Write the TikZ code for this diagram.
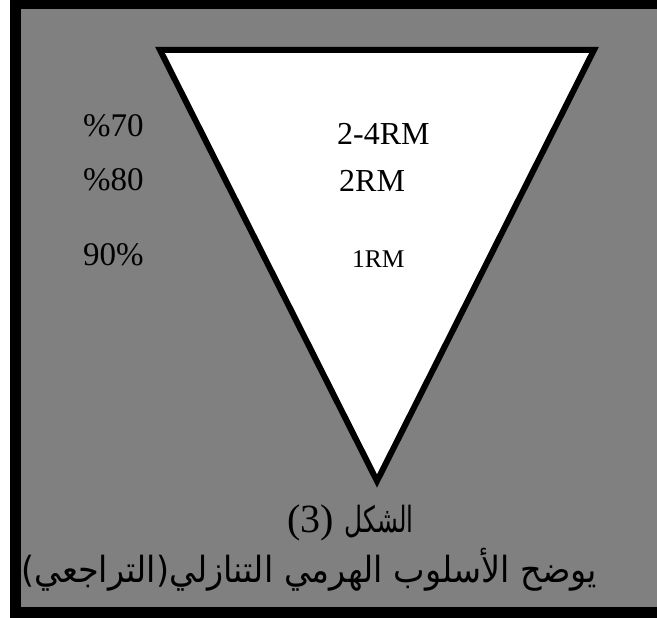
\documentclass[tikz,border=0pt]{standalone}
\usepackage{fontspec}
\usepackage{graphicx}
\setmainfont{Liberation Serif}
\newfontfamily\arabicfont[Script=Arabic]{DejaVu Sans}
\TeXXeTstate=1
\definecolor{bggray}{RGB}{128,128,128}
\begin{document}
\begin{tikzpicture}[x=1pt,y=-1pt,
  lbl/.style={inner sep=0pt,anchor=base west,font=\fontsize{33}{38}\selectfont},
  rm/.style={inner sep=0pt,anchor=base west,font=\fontsize{32}{38}\selectfont},
  captxt/.style={inner sep=0pt,font=\fontsize{36}{42}\selectfont\arabicfont}]
\path[use as bounding box] (0,0) rectangle (657,618);
\fill[white] (0,0) rectangle (657,618);
\fill[black] (10,0) rectangle (657,618);
\fill[bggray] (21,9) rectangle (657,607);
\draw[line width=6pt,fill=white,line join=miter,miter limit=10] (160,50) -- (594,50) -- (377,481) -- cycle;
\node[lbl] (p70) at (83,137) {\%70};
\node[lbl] (p80) at (83,190) {\%80};
\node[lbl] (p90) at (83,265) {90\%};
\node[rm] (r24) at (337,145) {2-4RM};
\node[rm] (r2) at (339,191) {2RM};
\node[rm,font=\fontsize{25.5}{30}\selectfont] (r1) at (352,267) {1RM};
\node[inner sep=0pt,anchor=base west,font=\fontsize{40}{46}\selectfont] (c1a) at (287,532) {(3)};
\node[captxt,anchor=base east] (c1b) at (414,532) {\resizebox{69pt}{\height}{الشكل}};
\node[captxt,anchor=base west] (c2) at (21,582) {\resizebox{576pt}{\height}{\hbox{)}\hbox{التراجعي}\hbox{(}\hbox{\beginR يوضح الأسلوب الهرمي التنازلي\endR}}};
\end{tikzpicture}
\end{document}
